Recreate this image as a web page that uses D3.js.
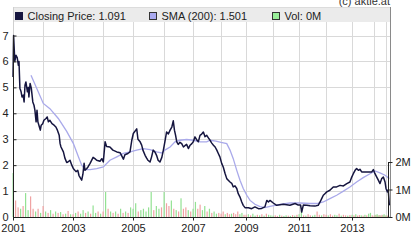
<!DOCTYPE html>
<html><head><meta charset="utf-8">
<script src="https://cdn.jsdelivr.net/npm/d3@7"></script>
<style>
html,body{margin:0;padding:0;background:#fff;}
svg{display:block;font-family:"Liberation Sans",Arial,sans-serif;}
</style></head>
<body>
<svg id="c" width="414" height="240"></svg>
<script>
// ---- data ----
const yearTicks = [2001,2002,2003,2004,2005,2006,2007,2008,2009,2010,2011,2012,2013,2014,2015];
const yearLabels = ["2001","2003","2005","2007","2009","2011","2013"];
const priceTicks = [0,1,2,3,4,5,6,7];
const volTicks = [0,1,2];
const volTickLabels = ["0M","1M","2M"];
const legendLabels = ["Closing Price: 1.091","SMA (200): 1.501","Vol: 0M"];

const priceDates = [2001.00,2001.01,2001.02,2001.06,2001.10,2001.14,2001.18,2001.20,2001.23,2001.27,2001.30,2001.34,2001.37,2001.40,2001.43,2001.48,2001.51,2001.53,2001.57,2001.61,2001.66,2001.70,2001.73,2001.77,2001.80,2001.83,2001.88,2001.91,2001.94,2001.99,
2002.03,2002.10,2002.14,2002.18,2002.23,2002.30,2002.37,2002.43,2002.48,2002.54,2002.57,2002.60,2002.68,2002.73,2002.79,2002.83,2002.90,2002.96,
2003.01,2003.10,2003.16,2003.20,2003.26,2003.29,2003.33,2003.37,2003.40,2003.46,2003.50,2003.57,2003.67,2003.73,2003.79,2003.90,2003.96,
2004.01,2004.07,2004.12,2004.23,2004.33,2004.46,2004.57,2004.68,2004.73,2004.83,2004.90,2004.96,
2005.01,2005.12,2005.16,2005.23,2005.28,2005.32,2005.39,2005.44,2005.48,2005.55,2005.60,2005.65,2005.71,2005.76,2005.81,2005.87,2005.93,2005.98,
2006.03,2006.09,2006.15,2006.21,2006.27,2006.32,2006.36,2006.40,2006.44,2006.49,2006.55,2006.61,2006.67,2006.72,2006.78,2006.84,2006.90,2006.96,
2007.01,2007.07,2007.13,2007.19,2007.25,2007.31,2007.37,2007.43,2007.49,2007.55,2007.61,2007.67,2007.73,2007.79,2007.85,2007.90,2007.96,
2008.03,2008.09,2008.16,2008.23,2008.29,2008.36,2008.43,2008.49,2008.56,2008.63,2008.69,2008.76,2008.83,2008.89,2008.96,
2009.09,2009.21,2009.33,2009.46,2009.58,2009.70,2009.77,2009.83,2009.89,
2010.01,2010.14,2010.40,2010.65,2010.85,2010.97,
2011.06,2011.10,2011.16,2011.29,2011.41,2011.59,2011.71,2011.78,2011.84,2011.90,2011.96,
2012.03,2012.15,2012.22,2012.28,2012.41,2012.54,2012.67,2012.80,2012.92,2012.99,
2013.06,2013.14,2013.21,2013.29,2013.36,2013.44,2013.59,2013.74,2013.90,2013.97,
2014.08,2014.23,2014.36,2014.50,2014.64,2014.78,2014.92,
2015.00,2015.08,2015.14,2015.21];
const priceValues = [5.4,6.18,7.0,6.0,6.24,6.15,5.85,6.0,4.97,4.83,4.63,4.7,4.44,5.08,5.21,4.83,5.0,4.63,5.15,4.97,4.44,4.31,4.12,3.67,4.12,3.67,3.47,3.35,3.54,3.6,
3.73,3.8,3.86,3.67,3.73,3.6,3.54,3.47,3.35,3.15,2.83,2.70,2.51,2.27,2.10,2.12,2.19,2.0,
1.87,1.75,1.80,1.60,1.48,1.42,1.65,2.07,1.80,1.87,1.93,2.07,2.30,2.25,2.19,2.15,2.25,
2.12,2.9,2.72,2.70,2.58,2.51,2.48,2.23,2.40,2.45,2.51,2.96,
3.22,3.40,3.0,2.90,2.77,2.58,2.38,2.27,2.19,2.12,2.32,2.58,2.50,2.38,2.19,2.12,2.30,2.58,
2.90,3.28,3.2,3.35,3.47,3.71,3.35,3.15,2.90,2.80,2.88,2.83,2.70,2.75,2.80,2.64,2.77,2.83,
2.90,3.09,2.98,2.90,3.15,3.20,3.28,3.10,3.15,3.05,2.96,2.85,2.77,2.70,2.58,2.46,2.32,
2.06,1.93,1.69,1.48,1.42,1.35,1.30,1.16,1.20,1.10,0.90,0.77,0.58,0.45,0.36,
0.36,0.32,0.39,0.32,0.33,0.39,0.64,0.58,0.64,
0.54,0.45,0.49,0.45,0.52,0.46,
0.46,0.19,0.46,0.45,0.43,0.42,0.45,0.58,0.71,0.84,0.90,
0.97,1.03,1.10,1.16,1.16,1.22,1.20,1.29,1.35,1.54,
1.67,1.80,1.87,1.80,1.84,1.74,1.74,1.74,1.74,1.83,
1.67,1.54,1.42,1.29,1.48,1.54,1.35,
1.10,0.97,1.05,0.45];

const smaDates = [2001.60,2002.01,2002.23,2002.51,2002.79,2003.01,2003.18,2003.29,2003.40,2003.57,2003.79,2004.01,2004.23,2004.46,2004.68,2004.90,2005.12,2005.33,2005.55,2005.76,2005.93,2006.03,2006.21,2006.38,2006.55,2006.78,2007.01,2007.25,2007.49,2007.61,2007.82,2008.00,2008.23,2008.36,2008.49,2008.63,2008.76,2008.89,2009.03,2009.15,2009.33,2009.52,2009.70,2009.89,2010.27,2010.65,2011.04,2011.41,2011.66,2011.90,2012.15,2012.41,2012.67,2012.92,2013.21,2013.51,2013.82,2014.08,2014.50,2014.92,2015.21];
const smaValues = [5.47,4.38,4.18,3.8,3.30,2.84,2.32,2.0,1.83,1.83,1.87,1.93,2.19,2.32,2.45,2.51,2.58,2.64,2.60,2.51,2.47,2.58,2.70,2.90,2.96,2.99,2.96,2.90,2.90,2.96,2.93,2.88,2.83,2.58,2.25,1.80,1.42,1.10,0.84,0.64,0.49,0.40,0.36,0.41,0.49,0.54,0.54,0.52,0.52,0.58,0.71,0.84,1.0,1.16,1.35,1.52,1.67,1.78,1.70,1.61,1.48];

// monthly volume (millions), starting Jan 2001
const volValues = [1.6,0.6,0.35,0.3,0.4,0.87,0.25,0.75,0.3,0.2,0.3,0.15,
0.4,0.2,0.15,0.25,0.12,0.2,0.15,0.18,0.1,0.12,0.22,0.1,
0.1,0.15,0.2,0.12,0.25,0.15,0.2,0.12,0.42,0.15,0.2,0.12,
0.2,0.91,0.3,0.2,0.15,0.2,0.12,0.3,0.15,0.2,0.15,0.35,
0.3,0.5,0.2,0.25,0.3,0.2,0.35,0.91,0.25,0.4,0.3,0.35,
0.91,0.5,0.4,0.6,0.3,0.25,0.2,0.68,0.3,0.35,0.25,0.2,
0.3,0.55,0.3,0.45,0.25,0.4,0.2,0.3,0.15,0.2,0.12,0.15,
0.12,0.2,0.1,0.15,0.1,0.12,0.15,0.1,0.2,0.1,0.15,0.08,
0.08,0.1,0.06,0.12,0.05,0.08,0.06,0.1,0.05,0.12,0.08,0.06,
0.05,0.06,0.04,0.08,0.05,0.04,0.06,0.05,0.04,0.07,0.05,0.08,
0.1,0.24,0.06,0.05,0.1,0.06,0.05,0.08,0.2,0.08,0.06,0.1,
0.08,0.06,0.1,0.05,0.08,0.06,0.12,0.05,0.08,0.06,0.05,0.07,
0.08,0.06,0.1,0.05,0.07,0.06,0.05,0.08,0.06,0.12,0.15,0.06,
0.05,0.08,0.06,0.1,0.05,0.07,0.06,0.05,0.08,0.06,0.1,0.05,
0.06,0.05,0.04];
// up (u) / down (d) month for each volume bar
const volDir = ("udduduuddudu"+"dudududududu"+"duduududuudu"+"dudududududu"+
  "uuduuuuuduud"+"uddudududdud"+"uudduududuud"+"ddudduddduud"+
  "duduudududuu"+"udduduududud"+"uududduuddud"+"dudduududdud"+
  "ududdududuud"+"duduududduud"+"udu").split("");

// ---- layout ----
const L=13, R=390, T=7, B=217;
const svg=d3.select("#c");
const yearPx=[13,43,73,103,133,164,193,221,246,273,299,326,352,374,386,390];
const x=d3.scaleLinear().domain(yearTicks.concat([2015.25])).range(yearPx);
const y=d3.scaleLinear().domain([0,8.1]).range([B,T]);
const yv=d3.scaleLinear().domain([0,7.64]).range([B,T]);

// copyright
svg.append("text").attr("x",390).attr("y",4.5).attr("text-anchor","end")
  .attr("font-size",11).attr("fill","#333").text("(c) aktie.at");

const grid=svg.append("g").attr("stroke","#d9d9d9").attr("stroke-width",1);
yearTicks.slice(1).forEach(d=>{
  const xx=Math.round(x(d))+0.5;
  grid.append("line").attr("x1",xx).attr("x2",xx).attr("y1",T).attr("y2",B);
});
priceTicks.slice(1).forEach(d=>{
  const yy=Math.round(y(d))+0.5;
  grid.append("line").attr("x1",L).attr("x2",R).attr("y1",yy).attr("y2",yy);
});

// legend band
svg.append("rect").attr("x",L).attr("y",T).attr("width",R-L).attr("height",15)
  .attr("fill","#ebebeb");
svg.append("line").attr("x1",R+0.5).attr("x2",R+0.5).attr("y1",T).attr("y2",B)
  .attr("stroke","#8a8a8a");
svg.append("line").attr("x1",L).attr("x2",R).attr("y1",T+0.5).attr("y2",T+0.5)
  .attr("stroke","#dcdcdc");
svg.append("line").attr("x1",L+0.5).attr("x2",L+0.5).attr("y1",T).attr("y2",B)
  .attr("stroke","#cfcfcf");

// volume bars
const volStart=2001;
svg.append("g").selectAll("rect").data(volValues).join("rect")
  .attr("x",(d,i)=>x(volStart+i/12)-0.5)
  .attr("width",1.2)
  .attr("y",d=>yv(d))
  .attr("height",d=>B-yv(d))
  .attr("fill",(d,i)=>volDir[i]==="d"?"#f0a3a3":"#93e293");

// SMA
const smaData=smaDates.map((d,i)=>[d,smaValues[i]]);
svg.append("path").datum(smaData)
  .attr("d",d3.line().x(d=>x(d[0])).y(d=>y(d[1])))
  .attr("fill","none").attr("stroke","#a9a9ea").attr("stroke-width",1.3);

// price
const priceData=priceDates.map((d,i)=>[d,priceValues[i]]);
svg.append("path").datum(priceData)
  .attr("d",d3.line().x(d=>x(d[0])).y(d=>y(d[1])))
  .attr("fill","none").attr("stroke","#15153f").attr("stroke-width",1.5)
  .attr("stroke-linejoin","round");

// left axis
const ax=svg.append("g").attr("transform",`translate(${L+0.5},0)`)
  .call(d3.axisLeft(y).tickValues(priceTicks).tickSize(-3).tickPadding(5).tickFormat(d3.format("d")));
ax.select(".domain").attr("stroke","#222").attr("d",`M0,${y(7)}V${B}`);
ax.selectAll(".tick line").attr("stroke","#222");
ax.selectAll("text").attr("font-size",11).attr("fill","#222").attr("font-family","Liberation Sans, Arial, sans-serif");

// right axis (volume)
const axr=svg.append("g").attr("transform",`translate(${R-1.5},0)`)
  .call(d3.axisRight(yv).tickValues(volTicks).tickSize(4).tickPadding(3).tickFormat((d,i)=>volTickLabels[i]));
axr.select(".domain").attr("stroke","#222").attr("d",`M0,${yv(2)}V${B}`);
axr.selectAll(".tick line").attr("stroke","#222");
axr.selectAll("text").attr("font-size",11).attr("fill","#222").attr("font-family","Liberation Sans, Arial, sans-serif");

// bottom axis
const axb=svg.append("g").attr("transform",`translate(0,${B+0.5})`)
  .call(d3.axisBottom(x).tickValues(yearLabels.map(Number)).tickSize(3).tickPadding(4).tickFormat(d3.format("d")));
axb.select(".domain").attr("stroke","#222").attr("d",`M${L},0H${R}`);
axb.selectAll(".tick line").attr("stroke","#222");
axb.selectAll("text").attr("font-size",11).attr("fill","#222").attr("font-family","Liberation Sans, Arial, sans-serif");

// legend
const legColors=[["#15153f","#15153f"],["#aaaaf0","#333"],["#9af09a","#333"]];
const legX=[15,149,272];
legendLabels.forEach((t,i)=>{
  svg.append("rect").attr("x",legX[i]+0.5).attr("y",12.5).attr("width",7).attr("height",7)
    .attr("fill",legColors[i][0]).attr("stroke",legColors[i][1]);
  svg.append("text").attr("x",legX[i]+12.5).attr("y",20).attr("font-size",11)
    .attr("fill","#222").text(t);
});
</script>
</body></html>
